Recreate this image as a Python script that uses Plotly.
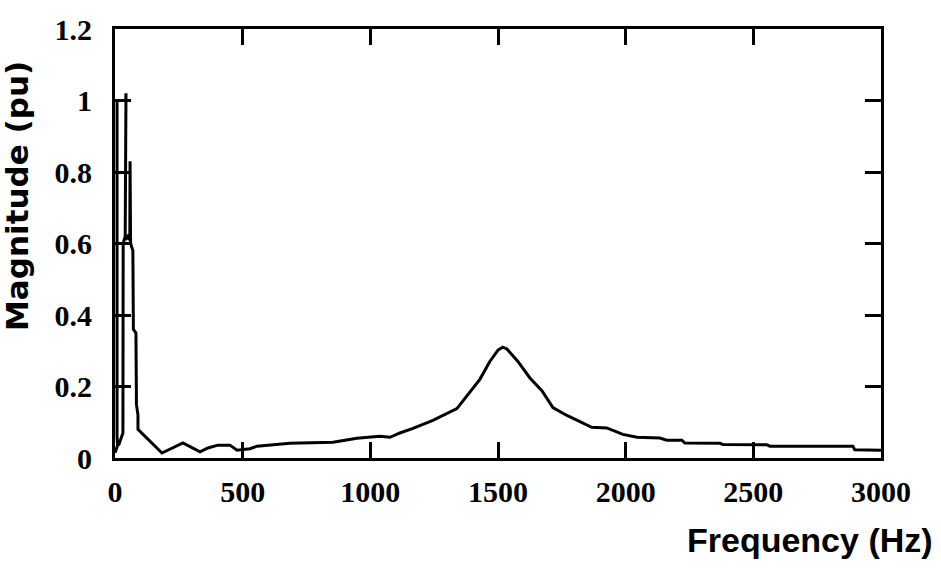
import plotly.graph_objects as go

# Spectrum of the measured signal: fundamental cluster near 50 Hz
# (several overlapping sweeps, hence the separate segments) and a
# resonance around 1.5 kHz.  None breaks the line between segments.
freq_hz = [
    0, 10, 8, 8, 42, 43, 40, 32, 31, 14,
    None,
    41, 50, 58, 59, 61, 70, 72, 82, 84, 90, 90,
    184, 266, 333, 364, 403, 450, 478, 528, 556, 685, 854, 947, 1010,
    1037, 1077, 1116, 1167, 1221, 1245, 1339, 1390, 1429, 1468, 1500,
    1519, 1535, 1578, 1625, 1672, 1715, 1770, 1813, 1867, 1926, 1989,
    2044, 2134, 2161, 2220, 2232, 2369, 2381, 2553, 2565, 2890, 2897, 3000,
]
magnitude_pu = [
    0.015, 0.035, 0.06, 1.0, 1.0, 1.02, 0.62, 0.6, 0.07, 0.035,
    None,
    0.61, 0.62, 0.61, 0.83, 0.6, 0.58, 0.36, 0.35, 0.15, 0.12, 0.08,
    0.014, 0.042, 0.017, 0.028, 0.036, 0.036, 0.022, 0.026, 0.033, 0.041,
    0.044, 0.055, 0.058, 0.061, 0.058, 0.07, 0.083, 0.097, 0.105, 0.138,
    0.185, 0.22, 0.27, 0.302, 0.31, 0.305, 0.27, 0.224, 0.188, 0.141,
    0.119, 0.105, 0.086, 0.084, 0.066, 0.058, 0.056, 0.05, 0.05, 0.042,
    0.041, 0.038, 0.037, 0.033, 0.033, 0.023, 0.022,
]

x_ticks = [0, 500, 1000, 1500, 2000, 2500, 3000]
x_tick_text = ["0", "500", "1000", "1500", "2000", "2500", "3000"]
y_ticks = [0, 0.2, 0.4, 0.6, 0.8, 1.0, 1.2]
y_tick_text = ["0", "0.2", "0.4", "0.6", "0.8", "1", "1.2"]

fig = go.Figure(
    go.Scatter(
        x=freq_hz,
        y=magnitude_pu,
        mode="lines",
        line=dict(color="black", width=3),
        connectgaps=False,
        hoverinfo="skip",
    )
)

tick_font = dict(family="Liberation Serif", size=30, color="black", weight="bold")
axis_common = dict(
    showline=True,
    linecolor="black",
    linewidth=3,
    mirror="ticks",
    ticks="inside",
    ticklen=16,
    tickwidth=2.5,
    tickcolor="black",
    showgrid=False,
    zeroline=False,
    tickfont=tick_font,
)

fig.update_xaxes(
    range=[0, 3000],
    tickmode="array",
    tickvals=x_ticks,
    ticktext=x_tick_text,
    ticklabelstandoff=5,
    **axis_common,
)
fig.update_yaxes(
    range=[0, 1.2],
    tickmode="array",
    tickvals=y_ticks,
    ticktext=y_tick_text,
    ticklabelstandoff=14,
    **axis_common,
)

fig.add_annotation(
    text="<b>Frequency (Hz)</b>",
    xref="paper", yref="paper",
    x=1.07, y=-0.19,
    xanchor="right", yanchor="middle",
    showarrow=False,
    font=dict(family="Liberation Sans", size=34, color="black"),
)
fig.add_annotation(
    text="<b>Magnitude (pu)</b>",
    xref="paper", yref="paper",
    x=-0.127, y=0.61,
    xanchor="center", yanchor="middle",
    textangle=-90,
    showarrow=False,
    font=dict(family="DejaVu Sans", size=31, color="black"),
)

fig.update_layout(
    width=941,
    height=568,
    margin=dict(l=115, r=60, t=24, b=110),
    paper_bgcolor="white",
    plot_bgcolor="white",
    showlegend=False,
)

fig.write_html("out.html")
